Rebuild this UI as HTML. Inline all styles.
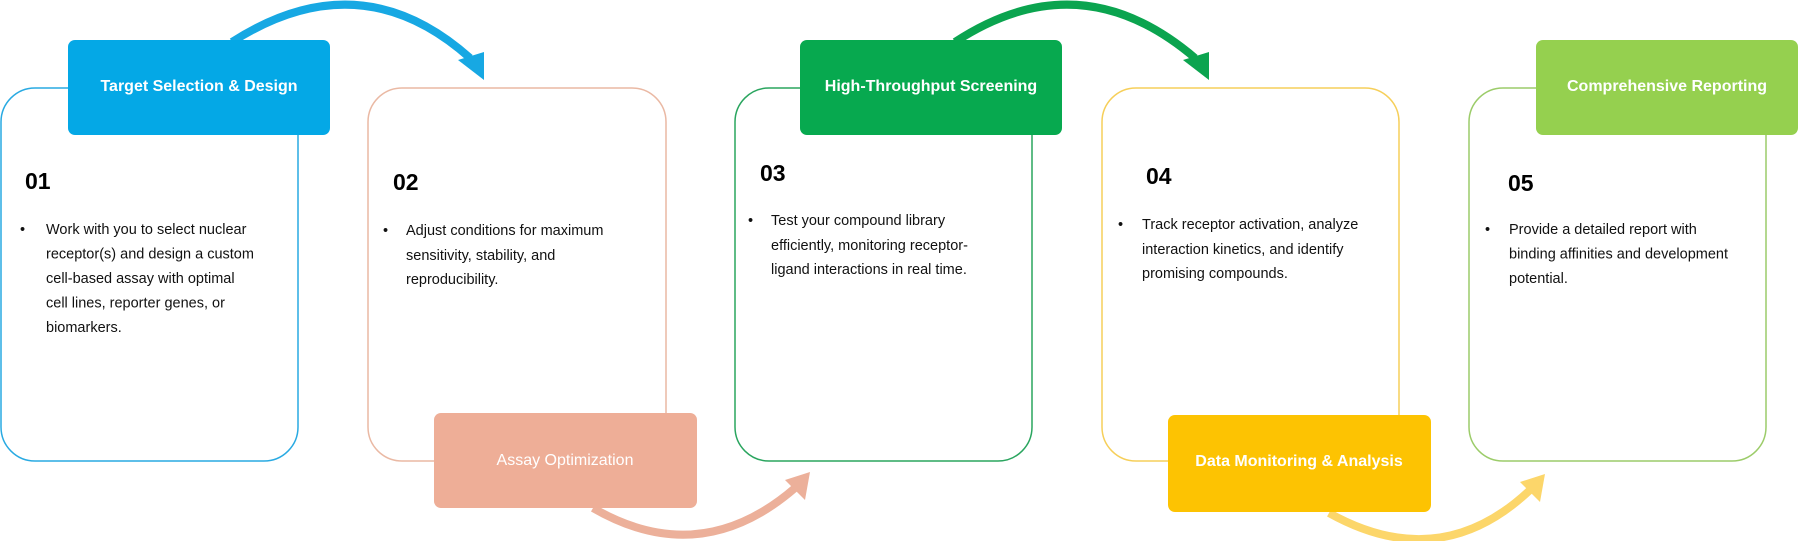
<!DOCTYPE html>
<html><head><meta charset="utf-8"><style>
body{margin:0;background:#fff;width:1800px;height:541px;overflow:hidden;font-family:"Liberation Sans",Arial,sans-serif}
svg text{font-family:"Liberation Sans",Arial,sans-serif}
.num{font-weight:bold;font-size:23px;fill:#000}
.t{font-size:14.5px;fill:#111}
.lab{font-weight:bold;font-size:16px;fill:#fff}
</style></head><body>
<svg width="1800" height="541" viewBox="0 0 1800 541" xmlns="http://www.w3.org/2000/svg">
<!-- arcs -->
<path d="M232 42 Q360 -40 470 58" fill="none" stroke="#17a8e3" stroke-width="8"/>
<polygon points="458,60 484,52 484,80" fill="#17a8e3"/>
<path d="M955 42 Q1080 -40 1195 58" fill="none" stroke="#0ba44f" stroke-width="8"/>
<polygon points="1183,60 1209,52 1209,80" fill="#0ba44f"/>
<path d="M593 508 Q700 570 795 488" fill="none" stroke="#ecb09a" stroke-width="8"/>
<polygon points="785,480 810,472 805,500" fill="#ecb09a"/>
<path d="M1329 513 Q1440 575 1530 490" fill="none" stroke="#fcd66a" stroke-width="8"/>
<polygon points="1520,482 1545,474 1540,502" fill="#fcd66a"/>
<!-- cards -->
<rect x="1" y="88" width="297" height="373" rx="34" fill="#fff" stroke="#29aae2" stroke-width="1.5"/>
<rect x="368" y="88" width="298" height="373" rx="34" fill="#fff" stroke="#eab9a4" stroke-width="1.5"/>
<rect x="735" y="88" width="297" height="373" rx="34" fill="#fff" stroke="#2aa55f" stroke-width="1.5"/>
<rect x="1102" y="88" width="297" height="373" rx="34" fill="#fff" stroke="#f6cf5a" stroke-width="1.5"/>
<rect x="1469" y="88" width="297" height="373" rx="34" fill="#fff" stroke="#9ccc6a" stroke-width="1.5"/>
<!-- labels -->
<rect x="68" y="40" width="262" height="95" rx="7" fill="#04a8e6"/>
<text class="lab" x="199" y="91" text-anchor="middle">Target Selection &amp; Design</text>
<rect x="434" y="413" width="263" height="95" rx="7" fill="#eeae97"/>
<text class="lab" x="565" y="465" text-anchor="middle" style="font-weight:normal">Assay Optimization</text>
<rect x="800" y="40" width="262" height="95" rx="7" fill="#07a94f"/>
<text class="lab" x="931" y="91" text-anchor="middle">High-Throughput Screening</text>
<rect x="1168" y="415" width="263" height="97" rx="7" fill="#fdc302"/>
<text class="lab" x="1299" y="466" text-anchor="middle">Data Monitoring &amp; Analysis</text>
<rect x="1536" y="40" width="262" height="95" rx="7" fill="#95d04f"/>
<text class="lab" x="1667" y="91" text-anchor="middle">Comprehensive Reporting</text>
<!-- content -->
<text class="num" x="25" y="189">01</text>
<text class="t" x="20" y="234">•</text>
<text class="t" x="46" y="234">Work with you to select nuclear</text>
<text class="t" x="46" y="258.5">receptor(s) and design a custom</text>
<text class="t" x="46" y="283">cell-based assay with optimal</text>
<text class="t" x="46" y="307.5">cell lines, reporter genes, or</text>
<text class="t" x="46" y="332">biomarkers.</text>

<text class="num" x="393" y="190">02</text>
<text class="t" x="383" y="235">•</text>
<text class="t" x="406" y="235">Adjust conditions for maximum</text>
<text class="t" x="406" y="260">sensitivity, stability, and</text>
<text class="t" x="406" y="284">reproducibility.</text>

<text class="num" x="760" y="181">03</text>
<text class="t" x="748" y="225">•</text>
<text class="t" x="771" y="225">Test your compound library</text>
<text class="t" x="771" y="250">efficiently, monitoring receptor-</text>
<text class="t" x="771" y="274">ligand interactions in real time.</text>

<text class="num" x="1146" y="184">04</text>
<text class="t" x="1118" y="229">•</text>
<text class="t" x="1142" y="229">Track receptor activation, analyze</text>
<text class="t" x="1142" y="254">interaction kinetics, and identify</text>
<text class="t" x="1142" y="278">promising compounds.</text>

<text class="num" x="1508" y="191">05</text>
<text class="t" x="1485" y="234">•</text>
<text class="t" x="1509" y="234">Provide a detailed report with</text>
<text class="t" x="1509" y="258.5">binding affinities and development</text>
<text class="t" x="1509" y="283">potential.</text>
</svg>
</body></html>
